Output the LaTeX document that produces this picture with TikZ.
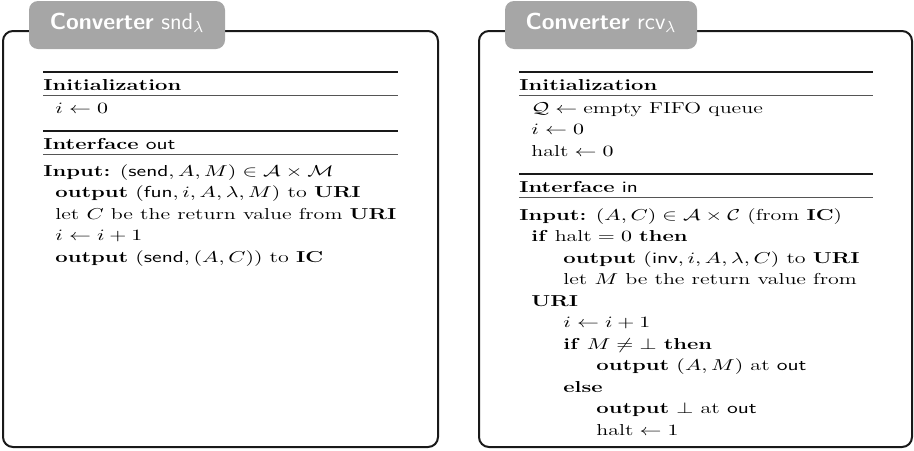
\documentclass[tikz,border=0pt]{standalone}
\usepackage{amsmath,amssymb}
\definecolor{tabgray}{HTML}{A6A6A6}
\definecolor{rulegray}{HTML}{555555}
\newcommand{\vsq}[1]{\scalebox{1}[0.72]{#1}}
\tikzset{
  frame/.style={draw=black!90, line width=1pt, rounded corners=5pt},
  tabshape/.style={fill=tabgray, rounded corners=4.5pt},
  tabtext/.style={anchor=base, inner sep=0pt, text=white, font=\fontsize{11.6}{14}\selectfont\sffamily},
  ln/.style={anchor=base west, inner sep=0pt, font=\fontsize{11}{13}\selectfont},
  thickrule/.style={line width=0.85pt, black!90},
  thinrule/.style={line width=0.45pt, rulegray},
}
\begin{document}
\begin{tikzpicture}[x=0.5pt,y=-0.5pt]
\useasboundingbox (0,0) rectangle (914,450);
% ---------- left box ----------
\draw[frame] (3,31) rectangle (438,447);
\fill[tabshape] (29,1) rectangle (225,49);
\node[tabtext] (ltitle) at (127,29) {\textbf{Converter} $\textsf{snd}_{\lambda}$};
\coordinate (la1) at (43,72);   \coordinate (lb1) at (398,72);
\coordinate (la2) at (43,95.5); \coordinate (lb2) at (398,95.5);
\coordinate (la3) at (43,131);  \coordinate (lb3) at (398,131);
\coordinate (la4) at (43,154.5);\coordinate (lb4) at (398,154.5);
\draw[thickrule] (la1) -- (lb1);
\draw[thinrule] (la2) -- (lb2);
\draw[thickrule] (la3) -- (lb3);
\draw[thinrule] (la4) -- (lb4);
\node[ln] (l1) at (43,90) {\vsq{\textbf{Initialization}}};
\node[ln] (l2) at (55,113) {\vsq{$i \leftarrow 0$}};
\node[ln] (l3) at (43,149) {\vsq{\textbf{Interface} \textsf{out}}};
\node[ln] (l4) at (43,176) {\vsq{\textbf{Input:} $(\textsf{send},A,M)\in\mathcal{A}\times\mathcal{M}$}};
\node[ln] (l5) at (55,197.5) {\vsq{\textbf{output} $(\textsf{fun},i,A,\lambda,M)$ to \textbf{URI}}};
\node[ln] (l6) at (55,219) {\vsq{let $C$ be the return value from \textbf{URI}}};
\node[ln] (l7) at (55,240.5) {\vsq{$i \leftarrow i+1$}};
\node[ln] (l8) at (55,262) {\vsq{\textbf{output} $(\textsf{send},(A,C))$ to \textbf{IC}}};
% ---------- right box ----------
\draw[frame] (479,31) rectangle (912,447);
\fill[tabshape] (505,1) rectangle (697,49);
\node[tabtext] (rtitle) at (601,29) {\textbf{Converter} $\textsf{rcv}_{\lambda}$};
\coordinate (ra1) at (519,72);   \coordinate (rb1) at (873,72);
\coordinate (ra2) at (519,95.5); \coordinate (rb2) at (873,95.5);
\coordinate (ra3) at (519,174);  \coordinate (rb3) at (873,174);
\coordinate (ra4) at (519,197.5);\coordinate (rb4) at (873,197.5);
\draw[thickrule] (ra1) -- (rb1);
\draw[thinrule] (ra2) -- (rb2);
\draw[thickrule] (ra3) -- (rb3);
\draw[thinrule] (ra4) -- (rb4);
\node[ln] (r1) at (519,90) {\vsq{\textbf{Initialization}}};
\node[ln] (r2) at (531,113) {\vsq{$\mathcal{Q} \leftarrow \text{empty FIFO queue}$}};
\node[ln] (r3) at (531,134.5) {\vsq{$i \leftarrow 0$}};
\node[ln] (r4) at (531,156) {\vsq{$\text{halt} \leftarrow 0$}};
\node[ln] (r5) at (519,192) {\vsq{\textbf{Interface} \textsf{in}}};
\node[ln] (r6) at (519,220) {\vsq{\textbf{Input:} $(A,C)\in\mathcal{A}\times\mathcal{C}$ (from \textbf{IC})}};
\node[ln] (r7) at (531,241.5) {\vsq{\textbf{if} $\text{halt}=0$ \textbf{then}}};
\node[ln] (r8) at (563,263) {\vsq{\textbf{output} $(\textsf{inv},i,A,\lambda,C)$ to \textbf{URI}}};
\node[ln] (r9) at (563,284.5) {\vsq{let $M$ be the return value from}};
\node[ln] (r10) at (531,306) {\vsq{\textbf{URI}}};
\node[ln] (r11) at (563,327.5) {\vsq{$i \leftarrow i+1$}};
\node[ln] (r12) at (563,349) {\vsq{\textbf{if} $M\neq\bot$ \textbf{then}}};
\node[ln] (r13) at (596,370.5) {\vsq{\textbf{output} $(A,M)$ at \textsf{out}}};
\node[ln] (r14) at (563,392) {\vsq{\textbf{else}}};
\node[ln] (r15) at (596,413.5) {\vsq{\textbf{output} $\bot$ at \textsf{out}}};
\node[ln] (r16) at (596,435) {\vsq{$\text{halt} \leftarrow 1$}};
\end{tikzpicture}
\end{document}
